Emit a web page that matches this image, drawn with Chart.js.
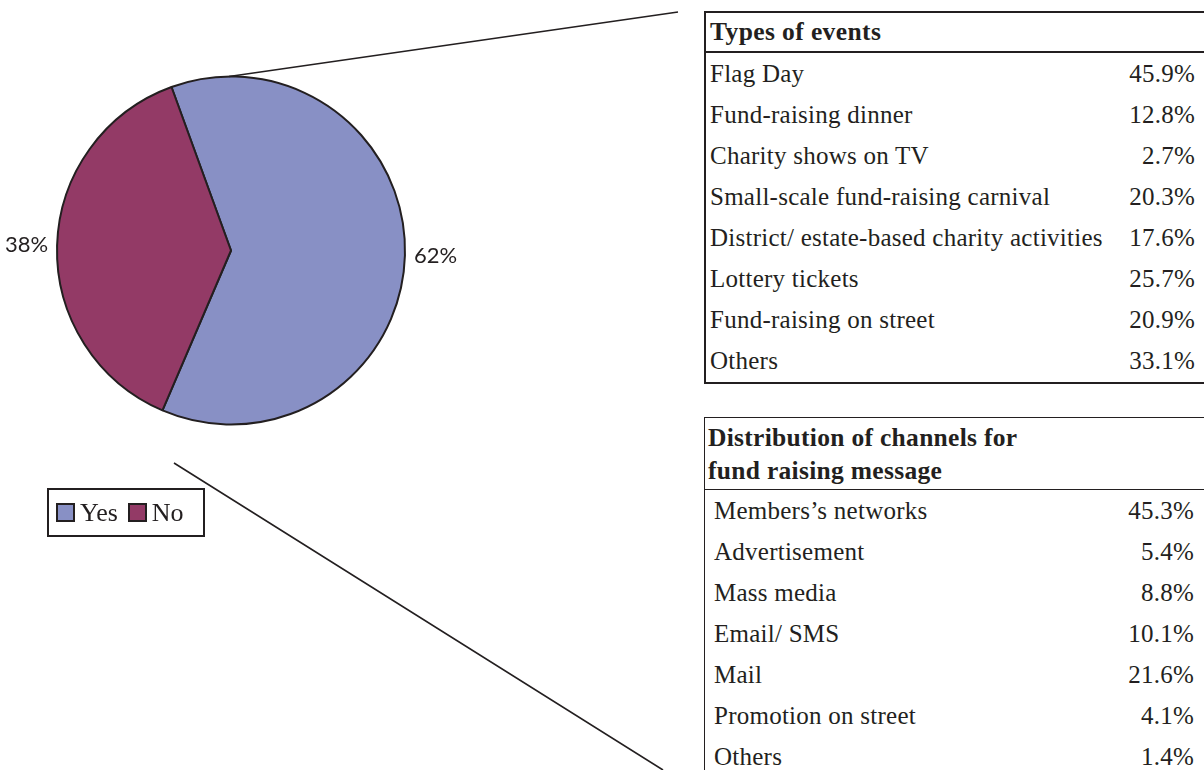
<!DOCTYPE html>
<html>
<head>
<meta charset="utf-8">
<script src="https://cdn.jsdelivr.net/npm/chart.js@4.4.1/dist/chart.umd.min.js"></script>
<style>
  body { margin: 0; background: #fff; overflow: hidden; width: 1204px; height: 770px; position: relative; }
  #pie { position: absolute; left: 0; top: 0; }
  .tbl { position: absolute; left: 704px; width: 540px; font-family: "Liberation Serif", "Times New Roman", serif; color: #231F20; background: #fff; }
  .tbl .row { position: relative; height: 41px; line-height: 41px; font-size: 25px; letter-spacing: 0.25px; white-space: nowrap; }
  .tbl .row span:last-child { position: absolute; right: 51px; }
  #events { top: 11px; border: 2px solid #231F20; height: 369px; }
  #events .head { height: 38px; line-height: 38px; font-size: 25.5px; font-weight: bold; letter-spacing: 0.4px; padding-left: 4px; border-bottom: 2px solid #231F20; }
  #events .row { padding-left: 4px; }
  #channels { top: 417px; border-left: 1.5px solid #231F20; border-top: 1.5px solid #231F20; height: 400px; }
  #channels .head { font-size: 25.5px; font-weight: bold; letter-spacing: 0.3px; line-height: 33px; padding: 3px 0 2px 3px; border-bottom: 1.5px solid #231F20; }
  #channels .row { padding-left: 9px; }
  #legend { position: absolute; left: 47px; top: 488px; width: 147px; height: 45px; border: 2px solid #231F20; font-family: "Liberation Serif", serif; font-size: 26px; color: #231F20; display: flex; align-items: center; padding-left: 7px; box-sizing: content-box; }
  #legend .sw { display: inline-block; width: 15px; height: 15px; border: 2px solid #231F20; margin-right: 5px; }
  #legend .item { display: flex; align-items: center; margin-right: 10px; }
</style>
</head>
<body>
<canvas id="pie" width="1204" height="770"></canvas>
<div id="legend"></div>
<div class="tbl" id="events"><div class="head">Types of events</div></div>
<div class="tbl" id="channels"><div class="head">Distribution of channels for<br>fund raising message</div></div>
<script>
// pie data
const pieLabels = ['Yes', 'No'];
const pieValues = [62, 38];
const pieColors = ['#8890C5', '#933A66'];

// table data
const eventTypes = ['Flag Day', 'Fund-raising dinner', 'Charity shows on TV', 'Small-scale fund-raising carnival',
    'District/ estate-based charity activities', 'Lottery tickets', 'Fund-raising on street', 'Others'];
const eventShares = [45.9, 12.8, 2.7, 20.3, 17.6, 25.7, 20.9, 33.1];
const channelTypes = ['Members\u2019s networks', 'Advertisement', 'Mass media', 'Email/ SMS', 'Mail',
    'Promotion on street', 'Others'];
const channelShares = [45.3, 5.4, 8.8, 10.1, 21.6, 4.1, 1.4];

function fillTable(id, names, values) {
    const box = document.getElementById(id);
    names.forEach(function (n, i) {
        const row = document.createElement('div');
        row.className = 'row';
        row.innerHTML = '<span>' + n + '</span><span>' + values[i].toFixed(1) + '%</span>';
        box.appendChild(row);
    });
}
fillTable('events', eventTypes, eventShares);
fillTable('channels', channelTypes, channelShares);

const legend = document.getElementById('legend');
pieLabels.forEach(function (l, i) {
    const it = document.createElement('div');
    it.className = 'item';
    it.innerHTML = '<span class="sw" style="background:' + pieColors[i] + '"></span>' + l;
    legend.appendChild(it);
});

// percent labels outside the slices + connector lines
const extras = {
    id: 'extras',
    afterDraw(chart) {
        const c = chart.ctx;
        const meta = chart.getDatasetMeta(0);
        c.save();
        c.font = '22px Lato, "DejaVu Sans", sans-serif';
        c.fillStyle = '#231F20';
        c.textBaseline = 'middle';
        meta.data.forEach(function (arc, i) {
            const mid = (arc.startAngle + arc.endAngle) / 2;
            const r = arc.outerRadius + 9;
            const x = arc.x + Math.cos(mid) * r;
            const y = arc.y + Math.sin(mid) * r;
            c.textAlign = Math.cos(mid) >= 0 ? 'left' : 'right';
            c.fillText(pieValues[i] + '%', x, y);
        });
        const a = meta.data[0];
        c.strokeStyle = '#231F20';
        c.lineWidth = 1.6;
        c.beginPath();
        c.moveTo(a.x - 2, a.y - a.outerRadius);
        c.lineTo(678, 12);
        c.moveTo(174, 463);
        c.lineTo(663, 770);
        c.stroke();
        c.restore();
    }
};

const ctx = document.getElementById('pie').getContext('2d');
const pieChart = new Chart(ctx, {
    type: 'pie',
    data: {
        labels: pieLabels,
        datasets: [{
            data: pieValues,
            backgroundColor: pieColors,
            borderColor: '#231F20',
            borderWidth: 2
        }]
    },
    options: {
        responsive: false,
        animation: false,
        rotation: -20,
        layout: { padding: { left: 56, right: 798, top: 75, bottom: 344 } },
        plugins: {
            legend: { display: false },
            tooltip: { enabled: false }
        }
    },
    plugins: [extras]
});
</script>
</body>
</html>
